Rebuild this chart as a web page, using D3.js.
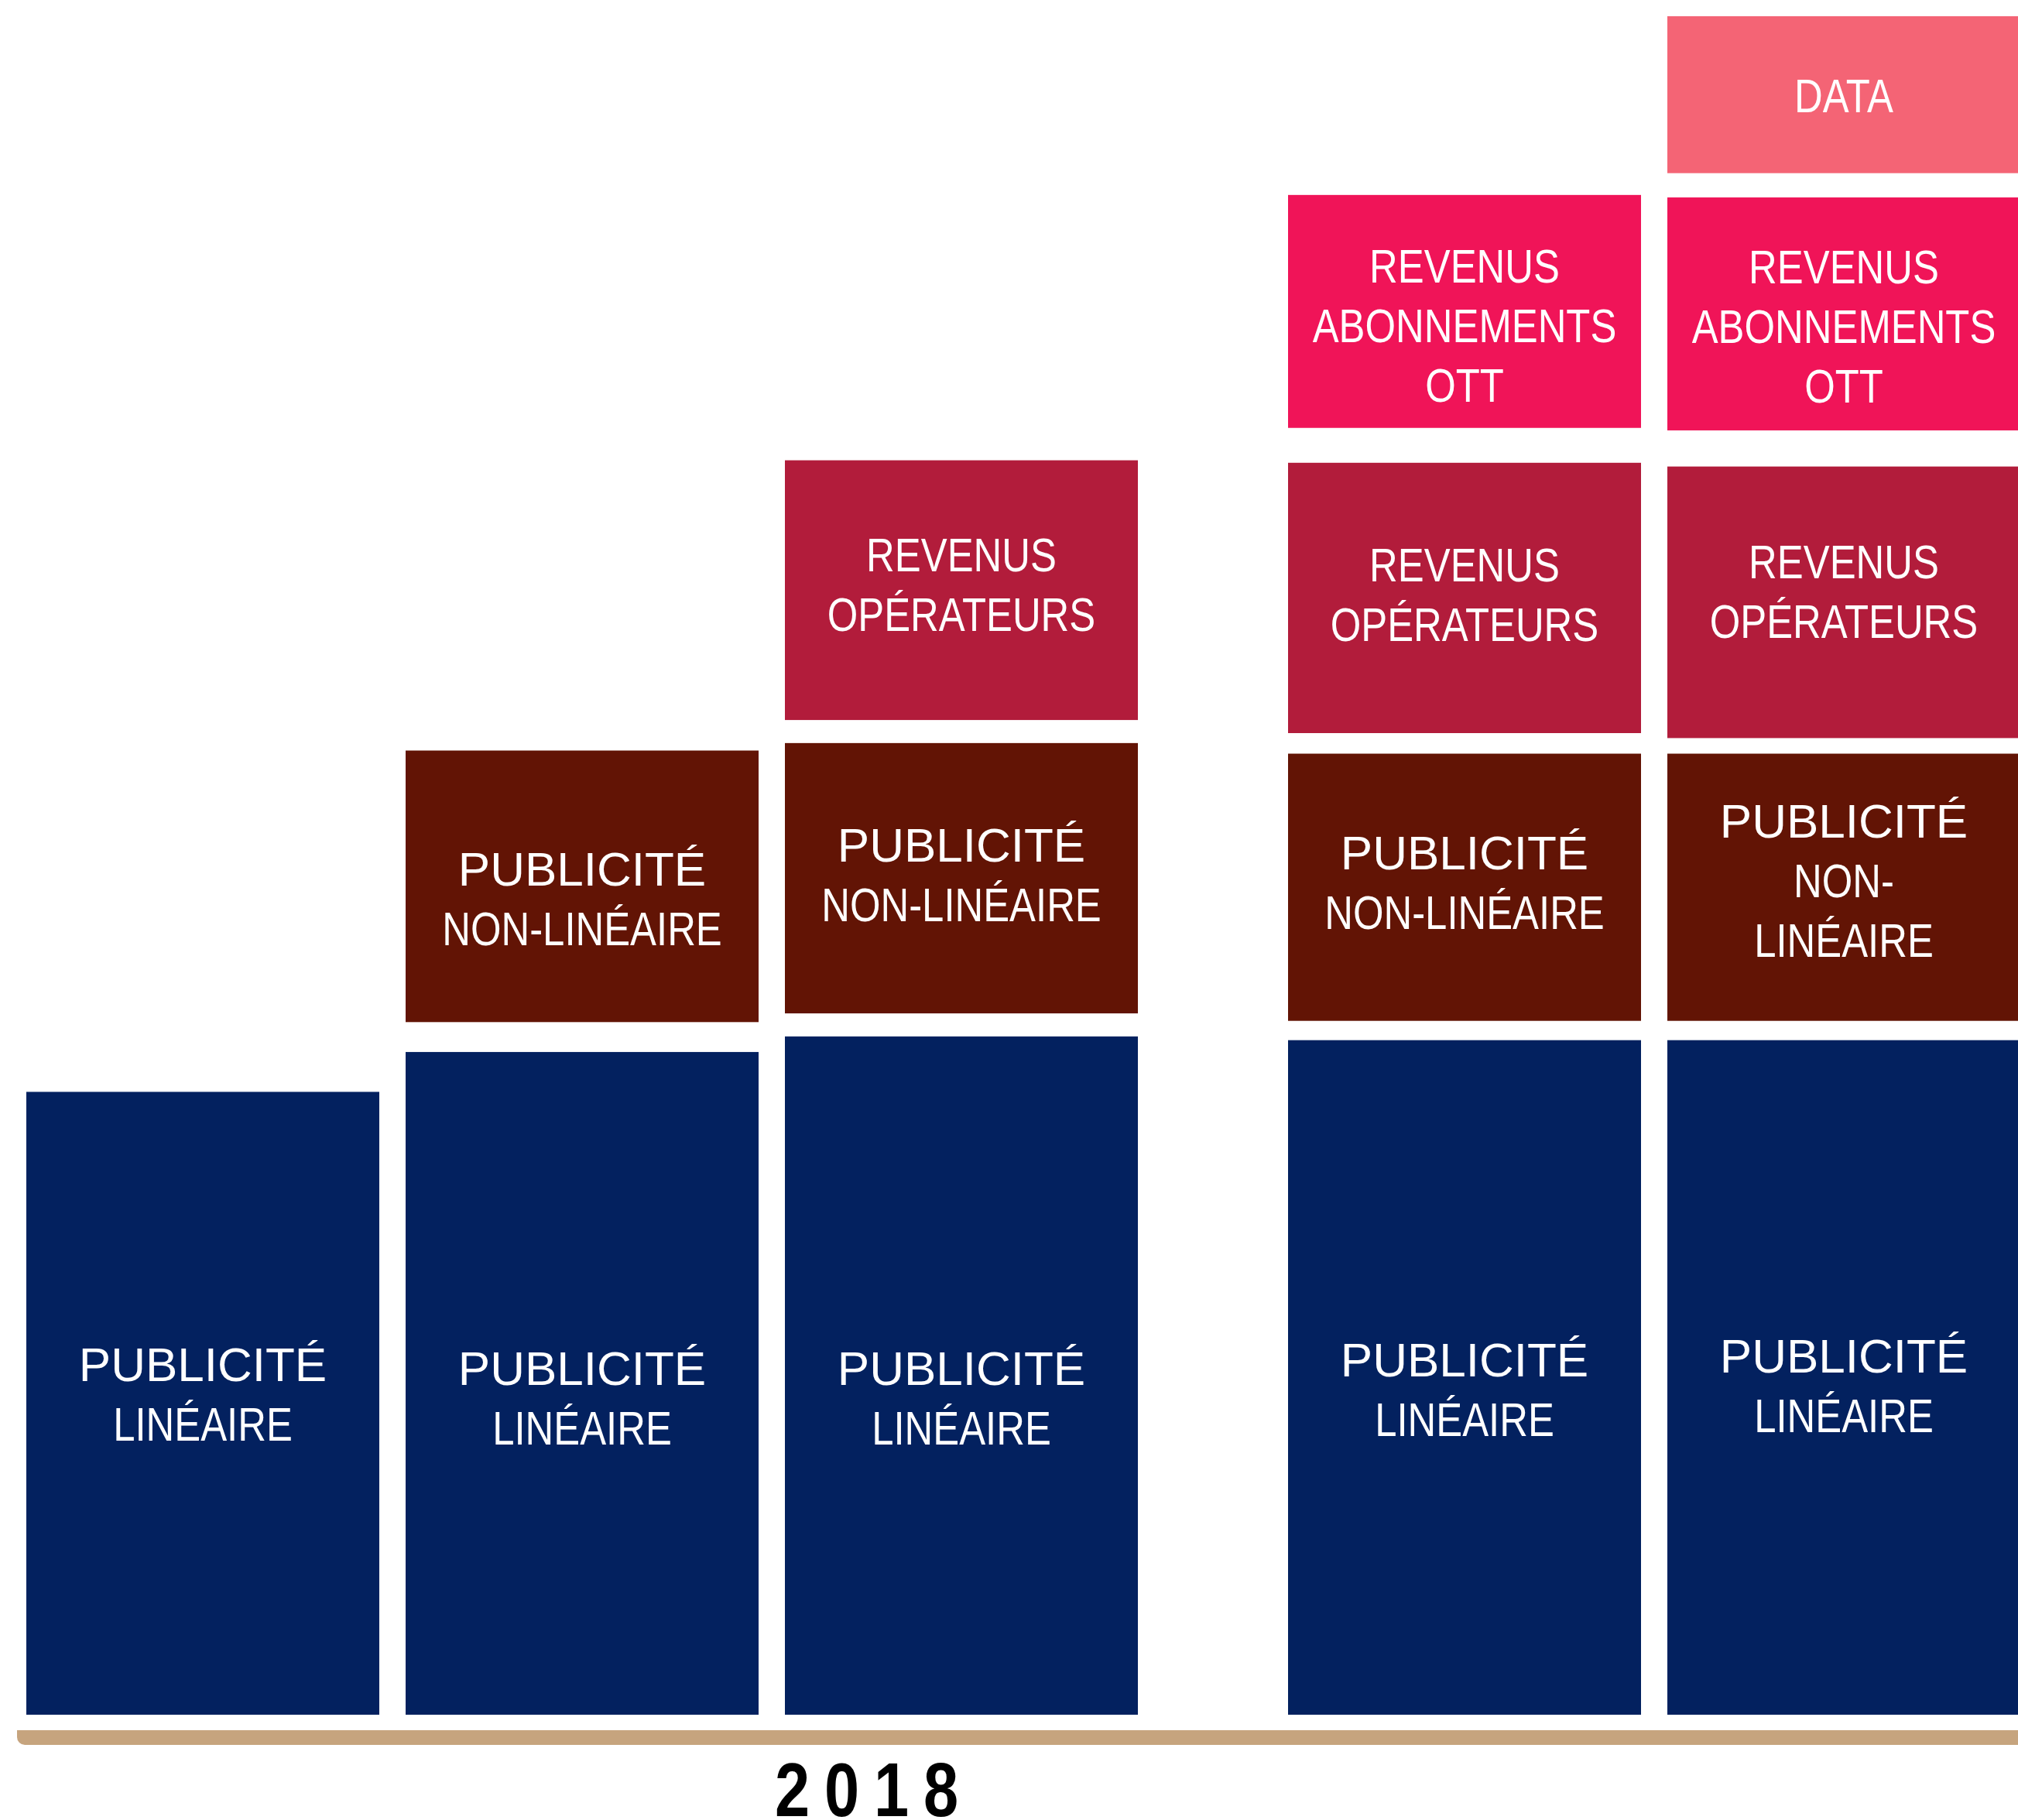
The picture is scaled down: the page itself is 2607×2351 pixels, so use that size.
<!DOCTYPE html>
<html lang="fr">

<head>
    <meta charset="UTF-8">
    <title>Revenus 2018</title>
    <script src="https://d3js.org/d3.v7.min.js"></script>
    <style>
        body { margin: 0; background: #fff; }
        text { font-family: "Liberation Sans", Arial, sans-serif; fill: #fff; }
        .year { fill: #000; font-weight: bold; }
    </style>
</head>

<body>
    <svg id="chart" width="2607" height="2351"></svg>

    <script>
        // bars, left to right (last two set apart as a second group)
        var bars = ["b1", "b2", "b3", "b4", "b5"];
        var barGroup = [0, 0, 0, 1, 1];

        // floating segments [bottom, top] per bar, null when absent
        var linear = [[0, 100], [0, 106.4], [0, 108.9], [0, 108.3], [0, 108.3]];
        var nonLinear = [null, [111.2, 154.8], [112.6, 156.0], [111.4, 154.3], [111.4, 154.3]];
        var operators = [null, null, [159.7, 201.4], [157.6, 201.0], [156.8, 200.4]];
        var ott = [null, null, null, [206.6, 244.0], [206.2, 243.6]];
        var dataRev = [null, null, null, null, [247.5, 272.7]];

        // label lines (last bar wraps the non-linear label)
        var linearLines = ["PUBLICITÉ", "LINÉAIRE"];
        var nonLinearLines = ["PUBLICITÉ", "NON-LINÉAIRE"];
        var nonLinearLinesWrapped = ["PUBLICITÉ", "NON-", "LINÉAIRE"];
        var operatorsLines = ["REVENUS", "OPÉRATEURS"];
        var ottLines = ["REVENUS", "ABONNEMENTS", "OTT"];
        var dataLines = ["DATA"];

        var yearLabel = "2018";

        // colours and small text-box offsets (px) as in the slide
        var series = [
            { values: linear, color: "#03215F", nudge: [-13, 18, 28, 15, 10],
              lines: function () { return linearLines; } },
            { values: nonLinear, color: "#621405", nudge: [0, 15, -5, -7, -10],
              lines: function (i) { return i === 4 ? nonLinearLinesWrapped : nonLinearLines; } },
            { values: operators, color: "#B21C3B", nudge: [0, 0, -8, -5, -15],
              lines: function () { return operatorsLines; } },
            { values: ott, color: "#F01458", nudge: [0, 0, 0, 17, 15],
              lines: function () { return ottLines; } },
            { values: dataRev, color: "#F46475", nudge: [0, 0, 0, 0, 0],
              lines: function () { return dataLines; } }
        ];

        var svg = d3.select("#chart");

        var step = 490, bw = 456, groupGap = 160;
        var x = d3.scaleBand()
            .domain(bars)
            .range([34, 34 + bars.length * step - (step - bw)])
            .paddingInner((step - bw) / step)
            .paddingOuter(0);

        var y = d3.scaleLinear()
            .domain([0, 275.3])
            .range([2215, 0]);

        function barX(i) { return x(bars[i]) + barGroup[i] * groupGap; }

        var fontSize = 62, lineGap = 77, capH = 45, narrow = 0.82;

        series.forEach(function (s) {
            var segs = s.values.map(function (v, i) { return { v: v, i: i }; })
                .filter(function (d) { return d.v; });

            var g = svg.selectAll(null).data(segs).enter().append("g");

            g.append("rect")
                .attr("x", function (d) { return barX(d.i); })
                .attr("y", function (d) { return y(d.v[1]); })
                .attr("width", x.bandwidth())
                .attr("height", function (d) { return y(d.v[0]) - y(d.v[1]); })
                .attr("fill", s.color);

            g.each(function (d) {
                var lines = s.lines(d.i);
                var cx = barX(d.i) + x.bandwidth() / 2;
                var cy = (y(d.v[0]) + y(d.v[1])) / 2 + s.nudge[d.i];
                var first = cy - (capH + (lines.length - 1) * lineGap) / 2 + capH;
                d3.select(this).selectAll("text").data(lines).enter().append("text")
                    .attr("text-anchor", "middle")
                    .attr("font-size", fontSize)
                    .attr("transform", function (t, k) {
                        var sx = t === "PUBLICITÉ" ? 1 : narrow;
                        return "translate(" + cx + "," + (first + k * lineGap) + ") scale(" + sx + ",1)";
                    })
                    .text(function (t) { return t; });
            });
        });

        // base line
        var by = y(0) + 20, bh = 19, bx = 22, r = 10;
        svg.append("path")
            .attr("d", "M" + bx + "," + by + "H2607V" + (by + bh) + "H" + (bx + r) +
                "A" + r + "," + r + " 0 0 1 " + bx + "," + (by + bh - r) + "Z")
            .attr("fill", "#C6A47E");

        svg.append("text")
            .attr("class", "year")
            .attr("font-size", 99)
            .attr("letter-spacing", 23)
            .attr("transform", "translate(1001," + (by + bh + 92) + ") scale(0.82,1)")
            .text(yearLabel);
    </script>
</body>

</html>
